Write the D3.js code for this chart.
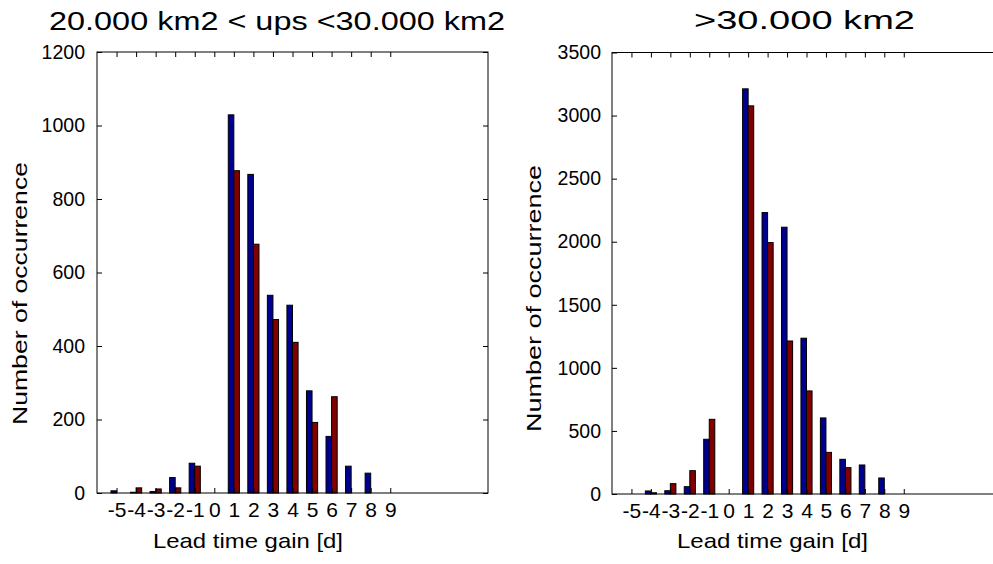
<!DOCTYPE html>
<html>
<head>
<meta charset="utf-8">
<script src="https://cdn.jsdelivr.net/npm/d3@7"></script>
<style>
  html, body { margin: 0; padding: 0; background: #fff; overflow: hidden; }
  svg { display: block; }
  text { font-family: "Liberation Sans", Arial, Helvetica, sans-serif; fill: #000; }
</style>
</head>
<body>
<svg id="chart" width="993" height="564"></svg>
<script>
// Lead time gain categories (days)
const leadDays = [-5, -4, -3, -2, -1, 0, 1, 2, 3, 4, 5, 6, 7, 8, 9];

// Catchments with 20.000 km2 < upstream area < 30.000 km2
const midFirst  = [6, 2, 4, 42, 81, 0, 1029, 867, 538, 511, 278, 154, 73, 54, 0];
const midSecond = [0, 14, 11, 14, 73, 0, 877, 677, 472, 410, 192, 262, 0, 0, 0];

// Catchments with upstream area > 30.000 km2
const largeFirst  = [0, 24, 26, 58, 434, 0, 3212, 2231, 2115, 1235, 603, 275, 230, 127, 0];
const largeSecond = [0, 10, 82, 185, 592, 0, 3077, 1993, 1213, 817, 330, 209, 0, 0, 0];

const midYTicks = [0, 200, 400, 600, 800, 1000, 1200];
const largeYTicks = [0, 500, 1000, 1500, 2000, 2500, 3000, 3500];

const panelTitles = ["20.000 km2 < ups <30.000 km2", ">30.000 km2"];
const xLabelText = "Lead time gain [d]";
const yLabelText = "Number of occurrence";

const seriesColors = ["#00008f", "#800000"];

const svg = d3.select("#chart");

const panels = [
  {
    first: midFirst, second: midSecond, yTicks: midYTicks, title: panelTitles[0],
    left: 97, right: 488, top: 52, bottom: 493, yPad: 12,
    titleX: 49, titleY: 29.5, titleLen: 456,
    xlabX: 153, xlabLen: 190,
    ylabX: 27, ylabY: 425, ylabLen: 263
  },
  {
    first: largeFirst, second: largeSecond, yTicks: largeYTicks, title: panelTitles[1],
    left: 612, right: 1001, top: 52.5, bottom: 494, yPad: 11,
    titleX: 694, titleY: 29, titleLen: 221,
    xlabX: 677, xlabLen: 191,
    ylabX: 541, ylabY: 432, ylabLen: 267
  }
];

// each bar spans 2/7 of a unit; the pair sits side by side around the tick
const barW = 2 / 7;

panels.forEach(p => {
  const x = d3.scaleLinear().domain([-6, 14]).range([p.left, p.right]);
  const y = d3.scaleLinear().domain([0, d3.max(p.yTicks)]).range([p.bottom, p.top]);
  const g = svg.append("g");

  // grouped bars
  [[p.first, -barW, seriesColors[0]], [p.second, 0, seriesColors[1]]].forEach(([vals, off, col]) => {
    g.append("g").selectAll("rect")
      .data(leadDays.map((d, i) => ({ d, v: vals[i] })).filter(o => o.v > 0))
      .join("rect")
      .attr("x", o => x(o.d + off))
      .attr("width", o => x(o.d + off + barW) - x(o.d + off))
      .attr("y", o => y(o.v))
      .attr("height", o => y(0) - y(o.v))
      .attr("fill", col)
      .attr("stroke", "#000")
      .attr("stroke-width", 1);
  });

  // axes with inward ticks on all four sides
  const styleAxis = size => sel => {
    sel.select(".domain").remove();
    sel.selectAll("line").attr("stroke", "#000");
    sel.attr("font-size", null).attr("font-family", null);
    sel.selectAll("text").attr("font-size", size);
  };

  g.append("g").attr("transform", `translate(0,${p.bottom})`)
    .call(d3.axisBottom(x).tickValues(leadDays).tickSizeInner(-5).tickSizeOuter(0)
      .tickPadding(9).tickFormat(d => String(d)))
    .call(styleAxis(21));
  g.append("g").attr("transform", `translate(0,${p.top})`)
    .call(d3.axisTop(x).tickValues(leadDays).tickSizeInner(-5).tickSizeOuter(0).tickFormat(""))
    .call(styleAxis(19));
  g.append("g").attr("transform", `translate(${p.left},0)`)
    .call(d3.axisLeft(y).tickValues(p.yTicks).tickSizeInner(-5).tickSizeOuter(0)
      .tickPadding(p.yPad).tickFormat(d => String(d)))
    .call(styleAxis(19.5));
  g.append("g").attr("transform", `translate(${p.right},0)`)
    .call(d3.axisRight(y).tickValues(p.yTicks).tickSizeInner(-5).tickSizeOuter(0).tickFormat(""))
    .call(styleAxis(19));

  // plot box
  g.append("rect")
    .attr("x", p.left).attr("y", p.top)
    .attr("width", p.right - p.left).attr("height", p.bottom - p.top)
    .attr("fill", "none").attr("stroke", "#000").attr("stroke-width", 1);

  // title
  g.append("text")
    .attr("x", p.titleX).attr("y", p.titleY)
    .attr("font-size", 25)
    .attr("textLength", p.titleLen).attr("lengthAdjust", "spacingAndGlyphs")
    .text(p.title);

  // x label
  g.append("text")
    .attr("x", p.xlabX).attr("y", 548)
    .attr("font-size", 21)
    .attr("textLength", p.xlabLen).attr("lengthAdjust", "spacingAndGlyphs")
    .text(xLabelText);

  // y label
  g.append("text")
    .attr("transform", `translate(${p.ylabX},${p.ylabY}) rotate(-90)`)
    .attr("font-size", 20)
    .attr("textLength", p.ylabLen).attr("lengthAdjust", "spacingAndGlyphs")
    .text(yLabelText);
});
</script>
</body>
</html>
